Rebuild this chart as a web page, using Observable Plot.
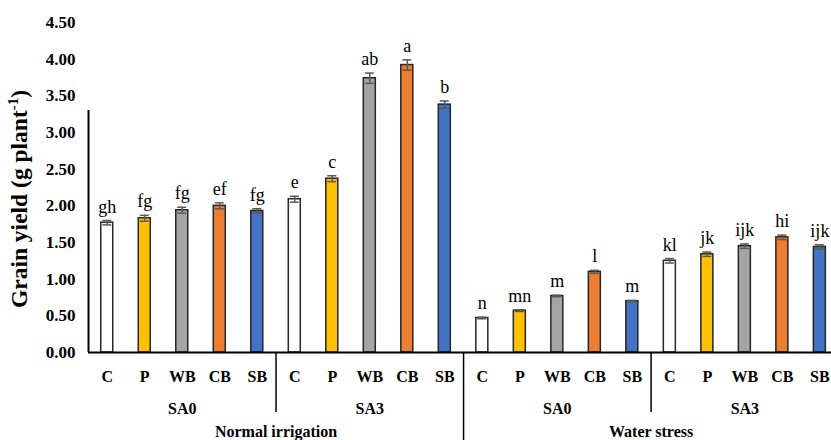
<!DOCTYPE html>
<html>
<head>
<meta charset="utf-8">
<style>
  html, body { margin: 0; padding: 0; background: #fff; overflow: hidden; font-family: "Liberation Serif", serif; }
  #chart svg { display: block; }
</style>
<script src="https://cdn.jsdelivr.net/npm/d3@7"></script>
<script src="https://cdn.jsdelivr.net/npm/@observablehq/plot@0.6"></script>
</head>
<body>
<div id="chart"></div>
<script>
const treatments = ["C", "P", "WB", "CB", "SB"];
const saLevels = ["SA0", "SA3"];
const waterRegimes = ["Normal irrigation", "Water stress"];
const colors = ["#FFFFFF", "#FFC000", "#A5A5A5", "#ED7D31", "#4472C4"];

const normalSA0 = [1.77, 1.83, 1.94, 2.00, 1.93];
const normalSA3 = [2.09, 2.37, 3.74, 3.92, 3.38];
const stressSA0 = [0.47, 0.57, 0.77, 1.10, 0.70];
const stressSA3 = [1.25, 1.34, 1.45, 1.57, 1.44];

const errNormalSA0 = [0.03, 0.04, 0.04, 0.04, 0.03];
const errNormalSA3 = [0.04, 0.04, 0.07, 0.07, 0.05];
const errStressSA0 = [0.01, 0.01, 0.01, 0.02, 0.01];
const errStressSA3 = [0.03, 0.03, 0.03, 0.03, 0.03];

const lettersNormalSA0 = ["gh", "fg", "fg", "ef", "fg"];
const lettersNormalSA3 = ["e", "c", "ab", "a", "b"];
const lettersStressSA0 = ["n", "mn", "m", "l", "m"];
const lettersStressSA3 = ["kl", "jk", "ijk", "hi", "ijk"];

const yTicks = [0, 0.5, 1, 1.5, 2, 2.5, 3, 3.5, 4, 4.5];

const groups = [
  {water: 0, sa: 0, values: normalSA0, errs: errNormalSA0, letters: lettersNormalSA0},
  {water: 0, sa: 1, values: normalSA3, errs: errNormalSA3, letters: lettersNormalSA3},
  {water: 1, sa: 0, values: stressSA0, errs: errStressSA0, letters: lettersStressSA0},
  {water: 1, sa: 1, values: stressSA3, errs: errStressSA3, letters: lettersStressSA3}
];

const data = [];
groups.forEach((g, gi) => {
  g.values.forEach((v, ti) => {
    data.push({
      i: gi * 5 + ti,
      treatment: treatments[ti],
      color: colors[ti],
      value: v,
      err: g.errs[ti],
      letter: g.letters[ti]
    });
  });
});

const saLabels = groups.map((g, gi) => ({x: gi * 5 + 2, label: saLevels[g.sa]}));
const waterLabels = waterRegimes.map((w, wi) => ({x: wi * 10 + 4.5, label: w}));
const shortSeps = [4.5, 14.5];
const longSeps = [9.5];

const font = "Liberation Serif";
const barHalf = 0.16;
const capHalf = 0.12;

const plot = Plot.plot({
  width: 831,
  height: 440,
  marginLeft: 88,
  marginRight: 0,
  marginTop: 22,
  marginBottom: 88,
  x: {domain: [-0.5, 19.31], axis: null},
  y: {domain: [0, 4.5], label: null, axis: null},
  marks: [
    Plot.rectY(data, {
      x1: d => d.i - barHalf, x2: d => d.i + barHalf, y1: 0, y2: "value",
      fill: d => d.color, stroke: "#262626", strokeWidth: 1.5
    }),
    Plot.ruleX(data, {x: "i", y1: d => d.value - d.err, y2: d => d.value + d.err, stroke: "#595959", strokeWidth: 1.5}),
    Plot.ruleY(data, {y: d => d.value + d.err, x1: d => d.i - capHalf, x2: d => d.i + capHalf, stroke: "#595959", strokeWidth: 1.5}),
    Plot.ruleY(data, {y: d => d.value - d.err, x1: d => d.i - capHalf, x2: d => d.i + capHalf, stroke: "#595959", strokeWidth: 1.5}),
    Plot.text(data, {
      x: "i", y: d => d.value + d.err, text: "letter",
      lineAnchor: "bottom", dy: -8, fontSize: 18, fontFamily: font, fill: "#000"
    }),
    Plot.text(yTicks, {
      x: -0.5, y: d => d, text: d => d3.format(".2f")(d),
      textAnchor: "end", dx: -13, fontSize: 17, fontWeight: "bold", fontFamily: font, fill: "#000"
    }),
    Plot.text(data, {
      x: "i", y: 0, text: "treatment", dy: 24, fontSize: 16, fontWeight: "bold", fontFamily: font, fill: "#000"
    }),
    Plot.text(saLabels, {
      x: "x", y: 0, text: "label", dy: 56, fontSize: 16, fontWeight: "bold", fontFamily: font, fill: "#000"
    }),
    Plot.text(waterLabels, {
      x: "x", y: 0, text: "label", dy: 79, fontSize: 16, fontWeight: "bold", fontFamily: font, fill: "#000"
    }),
    Plot.ruleX(shortSeps, {x: d => d, y1: 0, y2: 0, insetBottom: -60, stroke: "#000", strokeWidth: 1.5}),
    Plot.ruleX(longSeps, {x: d => d, y1: 0, y2: 0, insetBottom: -88, stroke: "#000", strokeWidth: 1.5}),
    Plot.ruleX([-0.5], {y1: 0, y2: 4.5, insetBottom: -88, stroke: "#000", strokeWidth: 2}),
    Plot.ruleY([0], {stroke: "#000", strokeWidth: 2})
  ]
});

const svg = d3.select(plot);
const t = svg.append("text")
  .attr("transform", "translate(27,199) rotate(-90)")
  .attr("text-anchor", "middle")
  .attr("font-family", font)
  .attr("font-weight", "bold")
  .attr("font-size", 23.5)
  .attr("fill", "#000");
t.append("tspan").text("Grain yield (g plant");
t.append("tspan").attr("font-size", 15).attr("dy", -9).text("-1");
t.append("tspan").attr("dy", 9).text(")");

document.getElementById("chart").appendChild(plot);
</script>
</body>
</html>
